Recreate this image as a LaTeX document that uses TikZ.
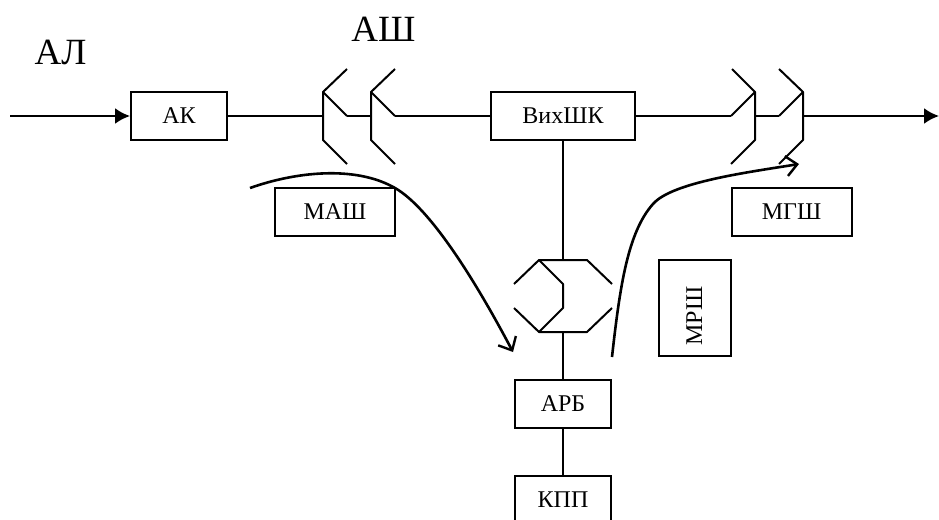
\documentclass[tikz,border=0pt]{standalone}
\usepackage{fontspec}
\setmainfont{Liberation Serif}
\usetikzlibrary{arrows.meta}
\newcommand{\lowtext}[1]{\raisebox{-1.2pt}{#1}}
\tikzset{
  every picture/.style={x=1pt,y=-1pt},
  box/.style={draw,line width=2pt,inner sep=0pt,font=\fontsize{24pt}{26pt}\selectfont,anchor=center},
  big/.style={inner sep=0pt,font=\fontsize{37pt}{39pt}\selectfont},
  wire/.style={line width=2pt,line join=round},
  flow/.style={line width=2.6pt,-{Straight Barb[length=11pt,width=20pt,line width=2.4pt]}},
  heavy/.style={line width=2.4pt,-{Latex[length=15pt,width=16pt]}}
}
\begin{document}
\begin{tikzpicture}
\clip (0,0) rectangle (939,519);
\useasboundingbox (0,0) rectangle (939,519);
\node[big] (al) at (60.5,52) {АЛ};
\node[big] (ash) at (383.5,29) {АШ};
\node[box,minimum width=96pt,minimum height=48pt] (ak) at (179,116) {\lowtext{АК}};
\node[box,minimum width=144pt,minimum height=48pt] (vykh) at (563,116) {\lowtext{ВихШК}};
\node[box,minimum width=120pt,minimum height=48pt] (mash) at (335,212) {\lowtext{МАШ}};
\node[box,minimum width=120pt,minimum height=48pt] (mgsh) at (791.5,212) {\lowtext{МГШ}};
\node[box,minimum width=96pt,minimum height=72pt,rotate=90] (mrsh) at (695,308) {\raisebox{1.5pt}{МРШ}\hspace*{16pt}};
\node[box,minimum width=96pt,minimum height=48pt] (arb) at (563,404) {\lowtext{АРБ}};
\node[box,minimum width=96pt,minimum height=48pt] (kpp) at (563,500) {\lowtext{КПП}};
\coordinate (start) at (10,116);
\coordinate (end) at (939,116);
\coordinate (a1) at (323,116);
\coordinate (a1o) at (347,116);
\coordinate (a2) at (371,116);
\coordinate (a2o) at (395,116);
\coordinate (b1o) at (731,116);
\coordinate (b1) at (755,116);
\coordinate (b2o) at (779,116);
\coordinate (b2) at (803,116);
\coordinate (ctop) at (563,260);
\coordinate (cbot) at (563,332);
% line-switch pairs
\draw[wire] (347,69) -- (323,92) -- (323,140) -- (347,164);
\draw[wire] (323,92) -- (a1o);
\draw[wire] (395,69) -- (371,92) -- (371,140) -- (395,164);
\draw[wire] (371,92) -- (a2o);
\draw[wire] (732,69) -- (755,92) -- (755,140) -- (731,164);
\draw[wire] (755,92) -- (b1o);
\draw[wire] (779,69) -- (803,92) -- (803,140) -- (779,164);
\draw[wire] (803,92) -- (b2o);
% centre switch
\draw[wire] (514,284) -- (539,260) -- (587,260) -- (612,284);
\draw[wire] (514,308) -- (539,332) -- (587,332) -- (612,308);
\draw[wire] (539,260) -- (563,284) -- (563,308) -- (539,332);
% connectors
\draw[heavy] (start) -- (ak.west);
\draw[wire] (ak.east) -- (a1);
\draw[wire] (a1o) -- (a2);
\draw[wire] (a2o) -- (vykh.west);
\draw[wire] (vykh.east) -- (b1o);
\draw[wire] (b1) -- (b2o);
\draw[heavy] (b2) -- (end);
\draw[wire] (vykh.south) -- (ctop);
\draw[wire] (cbot) -- (arb.north);
\draw[wire] (arb.south) -- (kpp.north);
% flows
\coordinate (f1s) at (250,188);
\coordinate (f1e) at (513,352);
\coordinate (f2s) at (612,357);
\coordinate (f2e) at (799,164);
\draw[flow] (f1s) .. controls (295,172) and (355,165) .. (395,188) .. controls (430,208) and (475,280) .. (f1e);
\draw[flow] (f2s) .. controls (620,285) and (628,232) .. (653,204) .. controls (672,182) and (750,172) .. (f2e);
\end{tikzpicture}
\end{document}
